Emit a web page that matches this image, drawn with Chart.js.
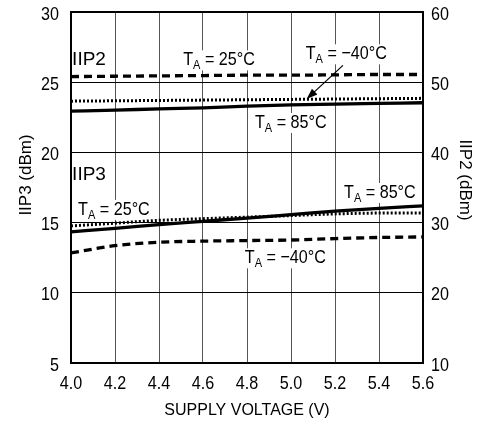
<!DOCTYPE html>
<html lang="en">
<head>
    <meta charset="UTF-8">
    <title>IIP3 / IIP2 vs Supply Voltage</title>
    <script src="https://cdn.jsdelivr.net/npm/chart.js@4.4.0/dist/chart.umd.min.js"></script>
    <style>
        html, body { margin: 0; padding: 0; background: #fff; }
        #wrap { width: 492px; height: 423px; }
    </style>
</head>
<body>
<div id="wrap"><canvas id="myChart" width="492" height="423"></canvas></div>
<script>
    // supply voltage (V)
    var voltage = [4.0, 4.2, 4.4, 4.6, 4.8, 5.0, 5.2, 5.4, 5.6];
    // IIP3 (dBm), left axis
    var iip3_25 = [14.76, 14.96, 15.16, 15.28, 15.39, 15.50, 15.62, 15.68, 15.69];
    var iip3_85 = [14.34, 14.59, 14.86, 15.09, 15.32, 15.57, 15.82, 16.02, 16.19];
    var iip3_m40 = [12.84, 13.36, 13.60, 13.68, 13.72, 13.76, 13.86, 13.94, 13.98];
    // IIP2 (dBm), right axis
    var iip2_25 = [50.8, 50.85, 50.9, 50.95, 51.0, 51.0, 51.05, 51.1, 51.1];
    var iip2_m40 = [47.3, 47.35, 47.4, 47.45, 47.5, 47.55, 47.6, 47.65, 47.7];
    var iip2_85 = [45.87, 46.01, 46.21, 46.35, 46.58, 46.78, 46.87, 46.97, 47.07];

    var xTicks = [4.0, 4.2, 4.4, 4.6, 4.8, 5.0, 5.2, 5.4, 5.6];
    var leftTicks = [5, 10, 15, 20, 25, 30];
    var rightTicks = [10, 20, 30, 40, 50, 60];

    var SANS = "'Liberation Sans', Arial, sans-serif";
    var SQUEEZE = 0.85;   // condensed look for the tick and note lettering

    function pts(ys) {
        return voltage.map(function (v, i) { return {x: v, y: ys[i]}; });
    }

    function line(data, axis, dash, width) {
        return {
            data: pts(data),
            yAxisID: axis,
            borderColor: '#000',
            borderWidth: width,
            borderDash: dash,
            borderCapStyle: 'butt',
            pointRadius: 0,
            fill: false,
            cubicInterpolationMode: 'monotone'
        };
    }

    // notes: [text, subscript, rest, x value, left-axis value, squeeze]
    var labels = [
        ['IIP2', '', '', 4.005, 26.2, 1],
        ['T', 'A', ' = 25°C', 4.51, 26.2, SQUEEZE],
        ['T', 'A', ' = \u221240°C', 5.067, 26.63, SQUEEZE],
        ['T', 'A', ' = 85°C', 4.836, 21.74, SQUEEZE],
        ['IIP3', '', '', 4.005, 18.03, 1],
        ['T', 'A', ' = 25°C', 4.032, 15.55, SQUEEZE],
        ['T', 'A', ' = 85°C', 5.241, 16.75, SQUEEZE],
        ['T', 'A', ' = \u221240°C', 4.79, 12.1, SQUEEZE]
    ];
    // arrow from the -40°C note down to the IIP2 dotted curve
    var arrow = [5.236, 26.2, 5.071, 23.8];

    var mainFont = "19px " + SANS;
    var subFont = "13px " + SANS;

    function squeezed(ctx, str, x, y, align, k) {
        ctx.save();
        ctx.translate(x, y);
        ctx.scale(k || SQUEEZE, 1);
        ctx.textAlign = align || 'left';
        ctx.fillText(str, 0, 0);
        ctx.restore();
    }

    function width(ctx, font, str, k) {
        ctx.font = font;
        return ctx.measureText(str).width * (k || SQUEEZE);
    }

    function labelWidth(ctx, l) {
        return width(ctx, mainFont, l[0], l[5]) + width(ctx, subFont, l[1], l[5]) + width(ctx, mainFont, l[2], l[5]);
    }

    var notes = {
        id: 'notes',
        beforeDatasetsDraw: function (chart) {
            var ctx = chart.ctx, xs = chart.scales.x, ys = chart.scales.y;
            ctx.save();
            ctx.fillStyle = '#fff';
            labels.forEach(function (l) {
                var x = xs.getPixelForValue(l[3]), y = ys.getPixelForValue(l[4]);
                ctx.fillRect(x - 2, y - 15, labelWidth(ctx, l) + 4, 20);
            });
            ctx.restore();
        },
        afterDatasetsDraw: function (chart) {
            var ctx = chart.ctx, xs = chart.scales.x, ys = chart.scales.y, y2s = chart.scales.y2;
            var a = chart.chartArea;
            ctx.save();
            ctx.fillStyle = '#000';
            ctx.textBaseline = 'alphabetic';

            labels.forEach(function (l) {
                var x = xs.getPixelForValue(l[3]), y = ys.getPixelForValue(l[4]), k = l[5];
                ctx.font = mainFont;
                squeezed(ctx, l[0], x, y, 'left', k);
                x += width(ctx, mainFont, l[0], k);
                if (l[1]) {
                    ctx.font = subFont;
                    squeezed(ctx, l[1], x, y + 4, 'left', k);
                    x += width(ctx, subFont, l[1], k);
                    ctx.font = mainFont;
                    squeezed(ctx, l[2], x, y, 'left', k);
                }
            });

            // tick labels
            ctx.font = mainFont;
            xs.ticks.forEach(function (t) {
                squeezed(ctx, t.value.toFixed(1), xs.getPixelForValue(t.value), a.bottom + 26, 'center');
            });
            ys.ticks.forEach(function (t) {
                squeezed(ctx, String(t.value), a.left - 12, ys.getPixelForValue(t.value) + 7.5, 'right');
            });
            y2s.ticks.forEach(function (t) {
                squeezed(ctx, String(t.value), a.right + 8, y2s.getPixelForValue(t.value) + 7.5, 'left');
            });

            // arrow
            var x1 = xs.getPixelForValue(arrow[0]), y1 = ys.getPixelForValue(arrow[1]);
            var x2 = xs.getPixelForValue(arrow[2]), y2 = ys.getPixelForValue(arrow[3]);
            var ang = Math.atan2(y2 - y1, x2 - x1);
            ctx.strokeStyle = '#000';
            ctx.lineWidth = 1.2;
            ctx.beginPath();
            ctx.moveTo(x1, y1);
            ctx.lineTo(x2 - 8 * Math.cos(ang), y2 - 8 * Math.sin(ang));
            ctx.stroke();
            ctx.beginPath();
            ctx.moveTo(x2, y2);
            ctx.lineTo(x2 - 11 * Math.cos(ang) + 4 * Math.sin(ang), y2 - 11 * Math.sin(ang) - 4 * Math.cos(ang));
            ctx.lineTo(x2 - 11 * Math.cos(ang) - 4 * Math.sin(ang), y2 - 11 * Math.sin(ang) + 4 * Math.cos(ang));
            ctx.closePath();
            ctx.fill();

            // frame
            ctx.lineWidth = 2;
            ctx.strokeRect(a.left, a.top, a.right - a.left, a.bottom - a.top);

            // rotated y-axis titles
            ctx.font = "17px " + SANS;
            ctx.textAlign = 'center';
            ctx.save();
            ctx.translate(31, 175);
            ctx.rotate(-Math.PI / 2);
            ctx.fillText('IIP3 (dBm)', 0, 0);
            ctx.restore();
            ctx.save();
            ctx.translate(460, 180);
            ctx.rotate(Math.PI / 2);
            ctx.fillText('IIP2 (dBm)', 0, 0);
            ctx.restore();
            ctx.restore();
        }
    };

    new Chart(document.getElementById('myChart'), {
        type: 'line',
        data: {
            datasets: [
                line(iip2_25, 'y2', [8, 5], 3.3),
                line(iip2_m40, 'y2', [2, 2], 3),
                line(iip2_85, 'y2', [], 3.3),
                line(iip3_25, 'y', [2, 2], 3),
                line(iip3_85, 'y', [], 3.3),
                line(iip3_m40, 'y', [8, 5], 3.3)
            ]
        },
        options: {
            responsive: false,
            animation: false,
            layout: {padding: {top: 12, left: 0, right: 0, bottom: 0}},
            plugins: {legend: {display: false}, tooltip: {enabled: false}},
            scales: {
                x: {
                    type: 'linear',
                    min: 4.0,
                    max: 5.6,
                    afterBuildTicks: function (s) { s.ticks = xTicks.map(function (v) { return {value: v}; }); },
                    afterFit: function (s) { s.height = 60; },
                    ticks: {display: false},
                    grid: {color: '#555', lineWidth: 1, drawTicks: false},
                    border: {display: false},
                    title: {
                        display: true,
                        text: 'SUPPLY VOLTAGE (V)',
                        color: '#000',
                        font: {family: SANS, size: 16},
                        padding: {top: 0, bottom: 3}
                    }
                },
                y: {
                    position: 'left',
                    min: 5,
                    max: 30,
                    afterBuildTicks: function (s) { s.ticks = leftTicks.map(function (v) { return {value: v}; }); },
                    afterFit: function (s) { s.width = 71; },
                    ticks: {display: false},
                    grid: {color: '#000', lineWidth: 1, drawTicks: false},
                    border: {display: false}
                },
                y2: {
                    position: 'right',
                    min: 10,
                    max: 60,
                    afterBuildTicks: function (s) { s.ticks = rightTicks.map(function (v) { return {value: v}; }); },
                    afterFit: function (s) { s.width = 69; },
                    ticks: {display: false},
                    grid: {drawOnChartArea: false, drawTicks: false},
                    border: {display: false}
                }
            }
        },
        plugins: [notes]
    });
</script>
</body>
</html>
